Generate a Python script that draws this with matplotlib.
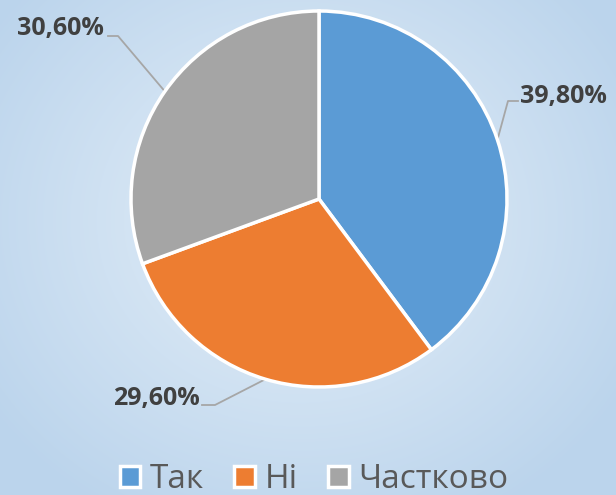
import numpy as np
import matplotlib.pyplot as plt
from matplotlib.patches import Patch

plt.rcParams['font.family'] = ['Open Sans', 'DejaVu Sans']

labels = ['Так', 'Ні', 'Частково']
values = [39.8, 29.6, 30.6]
value_text = ['39,80%', '29,60%', '30,60%']
colors = ['#5B9BD5', '#ED7D31', '#A5A5A5']

W, H = 616, 495
fig = plt.figure(figsize=(W / 100, H / 100), dpi=100)
ax = fig.add_axes([0, 0, 1, 1])

# radial gradient background
yy, xx = np.mgrid[0:H, 0:W]
r = np.sqrt(((xx - 300) / 380.0) ** 2 + ((yy - 220) / 340.0) ** 2)
r = np.clip(r, 0, 1)
c0 = np.array([0xe6, 0xf0, 0xf9]) / 255
c1 = np.array([0xbb, 0xd4, 0xec]) / 255
img = c0[None, None, :] * (1 - r[..., None]) + c1[None, None, :] * r[..., None]
ax.imshow(img, extent=(0, W, 0, H), origin='upper', zorder=0, aspect='auto')

cx, cy, rad = 319, 296, 188
wedges, _ = ax.pie(values, colors=colors, startangle=90, counterclock=False,
                   center=(cx, cy), radius=rad,
                   wedgeprops=dict(edgecolor='white', linewidth=2.5))
for w in wedges:
    w.set_zorder(2)

# label elbow / text positions (pixel-space, y from bottom)
elbows = [(508, 394), (215, 90), (118, 459)]
ends = [(518, 394), (202, 90), (108, 459)]
texts = [(520, 399, 'left'), (200, 96, 'right'), (104, 466, 'right')]

for w, el, en, (tx, ty, ha), s in zip(wedges, elbows, ends, texts, value_text):
    mid = np.deg2rad((w.theta1 + w.theta2) / 2)
    px = cx + rad * np.cos(mid)
    py = cy + rad * np.sin(mid)
    ax.plot([px, el[0], en[0]], [py, el[1], en[1]], color='#A6A6A6',
            linewidth=1.3, zorder=1)
    ax.text(tx, ty, s, ha=ha, va='center', fontsize=18, fontweight='bold',
            color='#404040', zorder=3)

ax.set_xlim(0, W)
ax.set_ylim(0, H)
ax.axis('off')

handles = [Patch(facecolor=c, edgecolor='white', linewidth=2.5) for c in colors]
leg = fig.legend(handles, labels, loc='lower center', bbox_to_anchor=(0.51, -0.063),
                 ncol=3, frameon=False, fontsize=24, handlelength=0.62,
                 handleheight=0.62, handletextpad=0.3, columnspacing=0.9)
for t in leg.get_texts():
    t.set_color('#595959')

plt.savefig('out.png', dpi=100)
